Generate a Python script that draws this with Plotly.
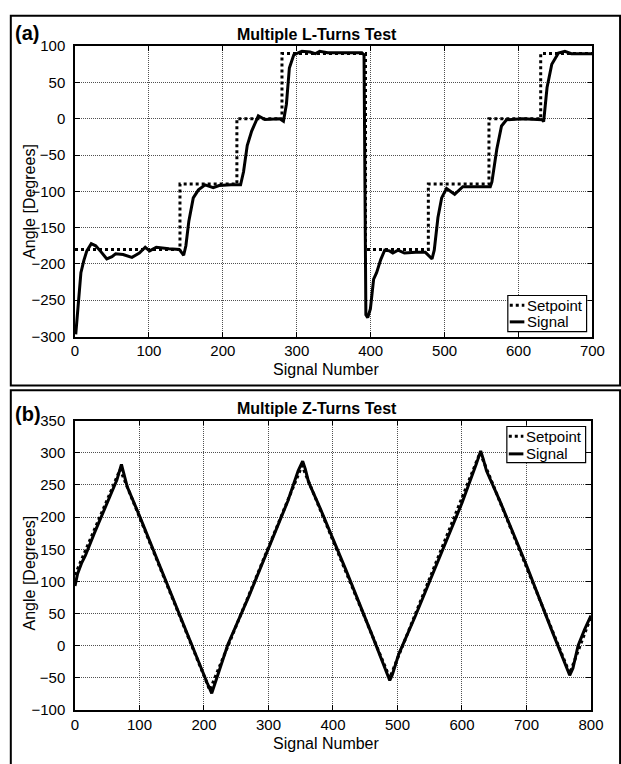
import plotly.graph_objects as go

W, H = 621, 764
FONT = "Liberation Sans, Arial, Helvetica, sans-serif"

# ---------------- Data: (a) Multiple L-Turns Test ----------------
l_set_x = [0, 142, 219, 280, 393, 478, 560, 630, 700]
l_set_y = [-180, -90, 0, 90, -180, -90, 0, 90, 90]

l_sig_x = [1, 5, 8, 12, 16, 22, 28, 35, 43, 50, 55, 65, 77, 87, 95, 101, 110, 127,
           141, 147, 150, 154, 160, 167, 176, 187, 195, 211, 224, 228, 233, 239, 248,
           257, 277, 282, 286, 290, 296, 307, 318, 325, 331, 342, 388, 391, 392.5,
           393.5, 396, 399.6, 404, 408, 413.6, 419, 425.6, 430, 437, 445.6, 461, 474,
           483, 486, 491, 496, 502.6, 513.6, 524.6, 561.8, 564, 570.6, 577, 583.8,
           605.7, 632, 634, 638.6, 645, 654, 662.7, 671.5, 700]
l_sig_y = [-297, -250, -212, -195, -182, -172, -175, -183, -193, -190, -186, -187,
           -191, -185, -177, -182, -177, -179, -180, -188, -175, -141, -109, -98, -91,
           -95, -92, -91, -91, -73, -37, -17, 4, -1, 0, -3.5, 20, 70, 88, 93, 92,
           89.6, 93, 91, 91, 88, -200, -270, -274, -262, -221, -212, -194, -181,
           -182, -185, -181, -185, -184, -184, -193, -181, -136, -109, -96, -104,
           -93.5, -93.5, -87, -42, -10, -1.4, 0, -1.4, -4, 43, 75, 90.6, 92.8,
           89.6, 89.6]

# ---------------- Data: (b) Multiple Z-Turns Test ----------------
z_set_x = [0, 70, 209, 352, 488, 628, 767, 800]
z_set_y = [110, 274, -69, 280, -50, 300, -43, 45]

z_sig_x = [0, 4, 10, 16, 30, 50, 65, 72, 76, 81, 100, 140, 180, 205, 212, 216, 222,
           237, 270, 300, 330, 346, 353, 357, 362, 380, 420, 460, 480, 488, 492,
           502, 528, 560, 600, 622, 629, 633, 638, 660, 700, 740, 760, 767, 772,
           780, 790, 800]
z_sig_y = [93, 112, 128, 140, 175, 222, 258, 282, 268, 247, 202, 102, 3, -58, -74,
           -62, -45, 2, 78, 152, 225, 272, 287, 275, 255, 214, 118, 18, -35, -54,
           -45, -13, 47, 125, 222, 282, 303, 290, 272, 222, 125, 22, -30, -46, -35,
           0, 25, 47]

x_ticks_a = [0, 100, 200, 300, 400, 500, 600, 700]
y_ticks_a = [-300, -250, -200, -150, -100, -50, 0, 50, 100]
x_ticks_b = [0, 100, 200, 300, 400, 500, 600, 700, 800]
y_ticks_b = [-100, -50, 0, 50, 100, 150, 200, 250, 300, 350]

legend_labels = ["Setpoint", "Signal"]


def px_x(p):
    return p / W


def px_y(p):
    return 1 - p / H


fig = go.Figure()

fig.add_trace(go.Scatter(x=l_set_x, y=l_set_y, mode="lines", name="Setpoint",
                         line=dict(color="black", width=3, dash="dot", shape="hv"),
                         xaxis="x", yaxis="y", showlegend=False))
fig.add_trace(go.Scatter(x=l_sig_x, y=l_sig_y, mode="lines", name="Signal",
                         line=dict(color="black", width=3),
                         xaxis="x", yaxis="y", showlegend=False))
fig.add_trace(go.Scatter(x=z_set_x, y=z_set_y, mode="lines", name="Setpoint",
                         line=dict(color="black", width=3, dash="dot"),
                         xaxis="x2", yaxis="y2", showlegend=False))
fig.add_trace(go.Scatter(x=z_sig_x, y=z_sig_y, mode="lines", name="Signal",
                         line=dict(color="black", width=3),
                         xaxis="x2", yaxis="y2", showlegend=False))

axis_common = dict(
    showline=True, linecolor="black", linewidth=1.5, mirror="ticks",
    ticks="inside", ticklen=5, tickwidth=1, tickcolor="black",
    showgrid=True, gridcolor="rgb(80,80,80)", gridwidth=1, griddash="1px,1px",
    zeroline=False, tickfont=dict(family=FONT, size=15, color="black"),
)

fig.update_layout(
    width=W, height=H,
    margin=dict(l=0, r=0, t=0, b=0),
    paper_bgcolor="white", plot_bgcolor="white",
    font=dict(family=FONT, color="black"),
    showlegend=False,
    xaxis=dict(domain=[px_x(73), px_x(605)], range=[0, 700], tickvals=x_ticks_a,
               anchor="y", ticklabelstandoff=0, **axis_common),
    yaxis=dict(domain=[px_y(335), px_y(38)], range=[-300, 100], tickvals=y_ticks_a,
               anchor="x", ticklabelstandoff=5, **axis_common),
    xaxis2=dict(domain=[px_x(73), px_x(603.5)], range=[0, 800], tickvals=x_ticks_b,
                anchor="y2", ticklabelstandoff=0, **axis_common),
    yaxis2=dict(domain=[px_y(717), px_y(421)], range=[-100, 350], tickvals=y_ticks_b,
                anchor="x2", ticklabelstandoff=5, **axis_common),
)

shapes = []
annotations = []

# panel frames
shapes.append(dict(type="rect", xref="paper", yref="paper",
                   x0=px_x(7), x1=1.02, y0=px_y(385), y1=px_y(7),
                   line=dict(color="black", width=2), fillcolor="rgba(0,0,0,0)", layer="above"))
shapes.append(dict(type="rect", xref="paper", yref="paper",
                   x0=px_x(7), x1=1.02, y0=-0.02, y1=px_y(390),
                   line=dict(color="black", width=2), fillcolor="rgba(0,0,0,0)", layer="above"))


def add_text(text, x, y, size, bold=False, angle=0, xanchor="center"):
    annotations.append(dict(
        text=f"<b>{text}</b>" if bold else text, xref="paper", yref="paper",
        x=px_x(x), y=px_y(y), xanchor=xanchor, yanchor="middle", showarrow=False,
        textangle=angle, font=dict(family=FONT, size=size, color="black")))


# panel (a)
add_text("(a)", 24, 25, 20, bold=True)
add_text("Multiple L-Turns Test", 322, 26, 16, bold=True)
add_text("Signal Number", 332, 369, 16)
add_text("Angle [Degrees]", 26, 197, 16, angle=-90)
# panel (b)
add_text("(b)", 25, 414, 20, bold=True)
add_text("Multiple Z-Turns Test", 322, 409, 16, bold=True)
add_text("Signal Number", 332, 751, 16)
add_text("Angle [Degrees]", 26, 577, 16, angle=-90)


def add_legend(x0, y0, x1, y1, row_y):
    shapes.append(dict(type="rect", xref="paper", yref="paper",
                       x0=px_x(x0), x1=px_x(x1), y0=px_y(y1), y1=px_y(y0),
                       line=dict(color="black", width=1.2), fillcolor="white", layer="above"))
    for lab, ry, dash in zip(legend_labels, row_y, ["dot", "solid"]):
        shapes.append(dict(type="line", xref="paper", yref="paper",
                           x0=px_x(x0 + 2), x1=px_x(x0 + 17), y0=px_y(ry), y1=px_y(ry),
                           line=dict(color="black", width=3, dash=dash), layer="above"))
        add_text(lab, x0 + 18, ry, 15, xanchor="left")


add_legend(518, 293, 599, 330, [303, 320])
add_legend(517, 427, 598, 464, [437, 455])

fig.update_layout(shapes=shapes, annotations=annotations)

fig.write_html("out.html")
